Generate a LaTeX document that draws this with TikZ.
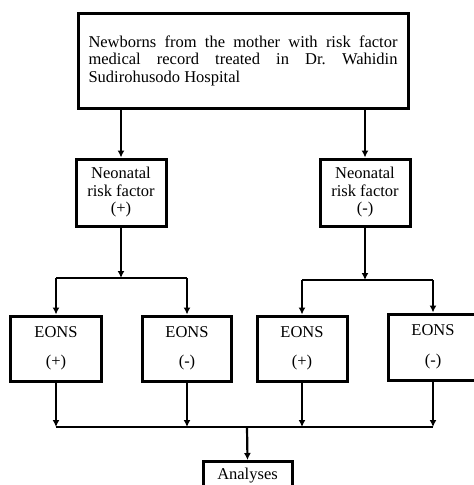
\documentclass[tikz,border=0pt]{standalone}
\usepackage{fontspec,amsmath}
\setmainfont{Liberation Serif}
\usetikzlibrary{arrows.meta}
\frenchspacing

\begin{document}
\begin{tikzpicture}[x=1pt, y=-1pt,
        font=\fontsize{16.5}{17.5}\selectfont,
        box/.style={draw, line width=3pt, inner sep=0pt, align=center},
        conn/.style={line width=2.2pt, -{Latex[length=7pt,width=7pt]}},
        bar/.style={line width=2.2pt}]
            \useasboundingbox (0,0) rectangle (474,485);
            \node[box, minimum width=330, minimum height=95, align=left] (top) at (243,60.5) {\makebox[309pt][s]{Newborns from the mother with risk factor}\\\makebox[309pt][s]{medical record treated in Dr. Wahidin}\\Sudirohusodo Hospital};
            \node[box, minimum width=90, minimum height=67] (nrfp) at (121,192.5) {Neonatal\\risk factor\\(+)};
            \node[box, minimum width=90, minimum height=67] (nrfm) at (365,192.5) {Neonatal\\risk factor\\(-)};
            \node[box, minimum width=91, minimum height=65] (eonsa) at (56,348.5) {EONS\\[12pt](+)};
            \node[box, minimum width=89, minimum height=65] (eonsb) at (187,348.5) {EONS\\[12pt](-)};
            \node[box, minimum width=90, minimum height=65] (eonsc) at (302,348.5) {EONS\\[12pt](+)};
            \node[box, minimum width=90, minimum height=66] (eonsd) at (433,347) {EONS\\[12pt](-)};
            \node[box, minimum width=89, anchor=north, inner ysep=7pt] (ana) at (247.5,460) {Analyses};
            \coordinate (jp) at (121,278);
            \coordinate (jm) at (365,280);
            \coordinate (jb) at (247,427);
            \draw[conn] (nrfp.north |- top.south) -- (nrfp.north);
            \draw[conn] (nrfm.north |- top.south) -- (nrfm.north);
            \draw[conn] (nrfp.south) -- (jp);
            \draw[conn] (nrfm.south) -- (jm);
            \draw[bar] (eonsa.north |- jp) -- (eonsb.north |- jp);
            \draw[bar] (eonsc.north |- jm) -- (eonsd.north |- jm);
            \draw[conn] (eonsa.north |- jp) -- (eonsa.north);
            \draw[conn] (eonsb.north |- jp) -- (eonsb.north);
            \draw[conn] (eonsc.north |- jm) -- (eonsc.north);
            \draw[conn] (eonsd.north |- jm) -- (eonsd.north);
            \draw[conn] (eonsa.south) -- (eonsa.south |- jb);
            \draw[conn] (eonsb.south) -- (eonsb.south |- jb);
            \draw[conn] (eonsc.south) -- (eonsc.south |- jb);
            \draw[conn] (eonsd.south) -- (eonsd.south |- jb);
            \draw[bar] (eonsa.south |- jb) -- (eonsd.south |- jb);
            \draw[conn] (jb) -- (ana.north);
        \end{tikzpicture}
\end{document}
